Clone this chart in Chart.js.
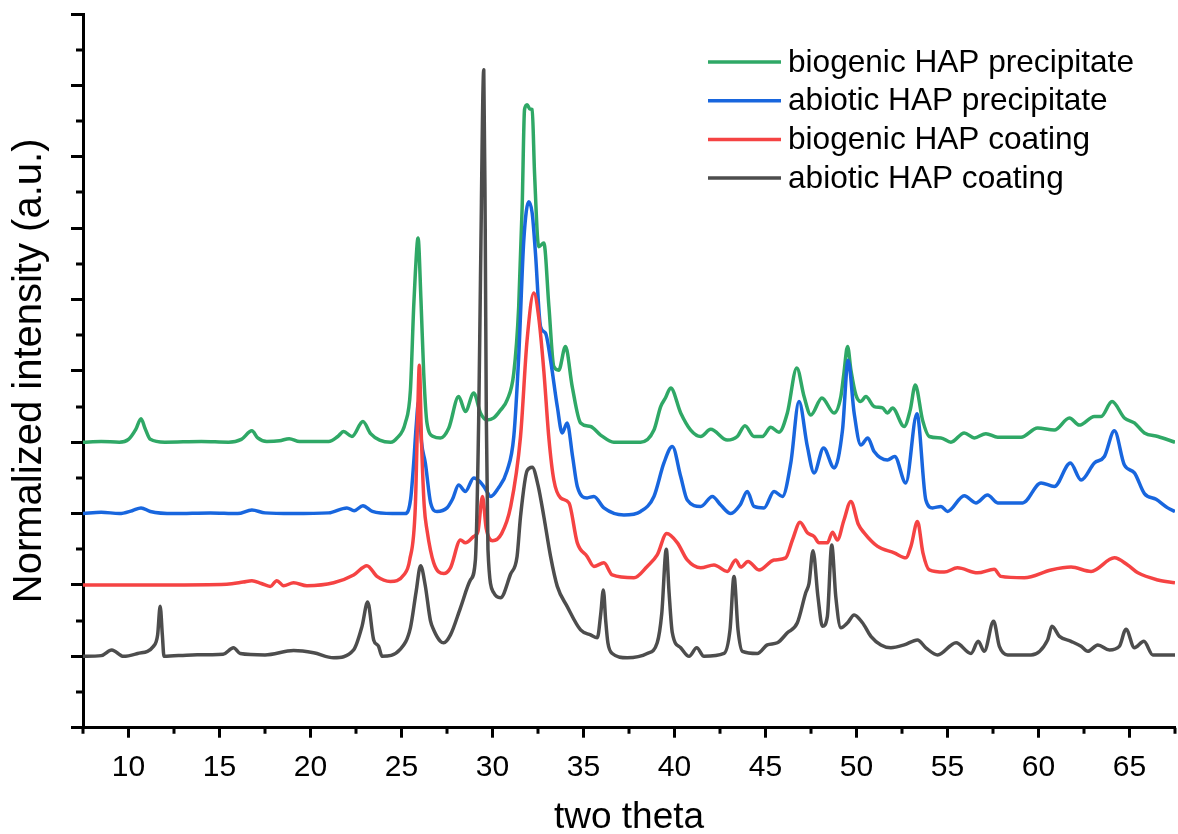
<!DOCTYPE html>
<html>
<head>
<meta charset="utf-8">
<title>XRD patterns</title>
<script src="https://cdn.jsdelivr.net/npm/chart.js@4.4.1/dist/chart.umd.min.js"></script>
<style>
    html, body { margin: 0; padding: 0; background: #fff; }
    #wrap { width: 1178px; height: 834px; }
</style>
</head>
<body>
<div id="wrap"><canvas id="xrdChart"></canvas></div>
<script>
// Series names (legend order) and colours
const seriesNames = ['biogenic HAP precipitate', 'abiotic HAP precipitate', 'biogenic HAP coating', 'abiotic HAP coating'];
const seriesColors = ['#2fa866', '#1866de', '#f54343', '#4d4d4d'];
// vertical offset of each pattern (stacked display)
const offsets = [4, 3, 2, 1];

// Axis ticks
const xMajorTicks = [10, 15, 20, 25, 30, 35, 40, 45, 50, 55, 60, 65];
const xMinorTicks = [7.5, 12.5, 17.5, 22.5, 27.5, 32.5, 37.5, 42.5, 47.5, 52.5, 57.5, 62.5, 67.5];
const yMajorTicks = [0, 1, 2, 3, 4, 5, 6, 7, 8, 9, 10];
const yMinorTicks = [0.5, 1.5, 2.5, 3.5, 4.5, 5.5, 6.5, 7.5, 8.5, 9.5];

// [two theta, normalized intensity] (before offset)
const biogenicPrecipitate = [
    [7.5, 0.0], [8.5, 0.01], [9.5, 0.0], [10.0, 0.04], [10.4, 0.18], [10.69, 0.33], [10.9, 0.2], [11.2, 0.04],
    [12.0, 0.0], [14.0, 0.01], [15.5, 0.0], [16.2, 0.04], [16.78, 0.16], [17.1, 0.06], [17.6, 0.01], [18.3, 0.02],
    [18.83, 0.05], [19.4, 0.01], [21.0, 0.01], [21.5, 0.08], [21.82, 0.15], [22.28, 0.08], [22.88, 0.29], [23.3, 0.12],
    [23.8, 0.03], [24.4, 0.0], [24.76, 0.06], [25.21, 0.27], [25.49, 0.73], [25.67, 1.9], [25.76, 2.37], [25.91, 2.86],
    [26.07, 1.99], [26.22, 0.97], [26.4, 0.27], [26.75, 0.08], [27.14, 0.06], [27.6, 0.2], [28.14, 0.64], [28.51, 0.43],
    [28.97, 0.69], [29.34, 0.41], [29.7, 0.31], [30.07, 0.34], [30.44, 0.45], [30.8, 0.59], [31.17, 0.97], [31.44, 1.9],
    [31.63, 3.3], [31.76, 4.66], [31.9, 4.73], [32.05, 4.67], [32.18, 4.66], [32.31, 3.77], [32.54, 2.74], [32.82, 2.79],
    [33.1, 1.9], [33.37, 1.06], [33.64, 1.01], [34.01, 1.34], [34.38, 0.78], [34.84, 0.27], [35.39, 0.22], [35.94, 0.1],
    [36.67, 0.0], [38.14, 0.0], [38.87, 0.17], [39.24, 0.5], [39.5, 0.62], [39.79, 0.76], [40.34, 0.41], [40.89, 0.17],
    [41.44, 0.08], [41.99, 0.18], [42.9, 0.03], [43.45, 0.08], [43.87, 0.23], [44.37, 0.08], [44.83, 0.08], [45.29, 0.21],
    [45.74, 0.14], [46.2, 0.41], [46.72, 1.04], [47.12, 0.64], [47.49, 0.38], [48.1, 0.62], [48.77, 0.41], [49.14, 0.64],
    [49.3, 0.95], [49.51, 1.34], [49.7, 1.0], [49.97, 0.66], [50.24, 0.57], [50.51, 0.64], [50.97, 0.5], [51.43, 0.48],
    [51.7, 0.41], [51.98, 0.48], [52.62, 0.22], [52.95, 0.45], [53.23, 0.8], [53.63, 0.31], [54.0, 0.08], [54.64, 0.06],
    [55.19, 0.0], [55.92, 0.13], [56.47, 0.06], [57.11, 0.12], [57.76, 0.07], [59.04, 0.07], [59.95, 0.2], [60.87, 0.17],
    [61.7, 0.34], [62.24, 0.24], [63.07, 0.36], [63.44, 0.36], [64.04, 0.57], [64.72, 0.34], [65.27, 0.27], [65.82, 0.13],
    [66.56, 0.08], [67.5, 0.0]
];

const abioticPrecipitate = [
    [7.5, 0.0], [8.5, 0.02], [9.5, 0.0], [10.2, 0.04], [10.69, 0.08], [11.2, 0.03], [12.5, 0.0], [14.5, 0.01],
    [16.0, 0.0], [16.78, 0.05], [17.5, 0.01], [19.0, 0.0], [21.0, 0.01], [22.0, 0.08], [22.4, 0.04], [22.88, 0.11],
    [23.4, 0.03], [24.5, 0.0], [25.21, 0.0], [25.5, 0.2], [25.67, 0.71], [25.8, 1.2], [25.94, 1.57], [26.1, 1.0],
    [26.31, 0.71], [26.6, 0.15], [26.95, 0.03], [27.5, 0.08], [27.8, 0.2], [28.14, 0.4], [28.51, 0.31], [28.97, 0.5],
    [29.3, 0.45], [29.6, 0.35], [29.9, 0.24], [30.3, 0.35], [30.8, 0.6], [31.17, 1.08], [31.44, 2.2], [31.72, 3.83],
    [31.99, 4.37], [32.18, 4.21], [32.36, 3.65], [32.64, 2.62], [32.91, 2.53], [33.19, 2.15], [33.56, 1.5], [33.83, 1.13],
    [34.1, 1.27], [34.4, 0.8], [34.66, 0.38], [35.2, 0.22], [35.57, 0.24], [36.12, 0.08], [37.22, -0.02], [38.14, 0.03],
    [38.87, 0.24], [39.42, 0.71], [39.88, 0.94], [40.34, 0.52], [40.7, 0.19], [41.44, 0.1], [42.08, 0.24], [42.54, 0.12],
    [43.09, 0.0], [43.6, 0.12], [44.0, 0.31], [44.37, 0.1], [44.92, 0.08], [45.47, 0.31], [45.93, 0.24], [46.39, 0.71],
    [46.84, 1.57], [47.3, 0.94], [47.67, 0.57], [48.19, 0.92], [48.77, 0.64], [49.23, 1.17], [49.54, 2.15], [49.87, 1.41],
    [50.24, 0.96], [50.62, 1.06], [50.97, 0.87], [51.7, 0.75], [52.1, 0.8], [52.71, 0.43], [53.32, 1.4], [53.81, 0.19],
    [54.18, 0.08], [54.64, 0.1], [55.0, 0.03], [55.92, 0.25], [56.56, 0.15], [57.2, 0.26], [57.76, 0.15], [59.13, 0.15],
    [60.14, 0.43], [60.87, 0.38], [61.75, 0.71], [62.34, 0.47], [63.07, 0.71], [63.62, 0.8], [64.17, 1.16], [64.72, 0.68],
    [65.27, 0.57], [65.82, 0.28], [66.46, 0.2], [67.1, 0.08], [67.5, 0.03]
];

const biogenicCoating = [
    [7.5, 0.0], [12.0, 0.0], [15.4, 0.01], [16.3, 0.04], [16.78, 0.06], [17.3, 0.02], [17.79, -0.02], [18.15, 0.06],
    [18.52, -0.01], [19.07, 0.03], [19.8, -0.01], [21.27, 0.03], [22.37, 0.14], [23.1, 0.27], [23.65, 0.12], [24.39, 0.05],
    [25.12, 0.14], [25.45, 0.35], [25.76, 1.1], [25.9, 2.5], [25.98, 3.08], [26.1, 2.0], [26.25, 1.1], [26.4, 0.77],
    [26.77, 0.31], [27.32, 0.16], [27.69, 0.24], [28.24, 0.63], [28.51, 0.59], [28.97, 0.68], [29.2, 0.75], [29.45, 1.24],
    [29.65, 0.8], [30.0, 0.62], [30.5, 0.72], [31.0, 1.1], [31.54, 2.08], [31.9, 3.43], [32.27, 4.09], [32.54, 3.75],
    [32.82, 3.0], [33.1, 2.05], [33.37, 1.47], [33.74, 1.22], [34.2, 1.15], [34.66, 0.59], [35.2, 0.4], [35.57, 0.26],
    [36.12, 0.31], [36.58, 0.14], [37.77, 0.1], [38.5, 0.26], [39.05, 0.42], [39.57, 0.72], [40.16, 0.59], [40.7, 0.35],
    [41.44, 0.24], [42.17, 0.28], [42.9, 0.19], [43.36, 0.35], [43.64, 0.25], [44.04, 0.33], [44.64, 0.21], [45.47, 0.35],
    [46.11, 0.38], [46.48, 0.63], [46.9, 0.88], [47.3, 0.73], [47.67, 0.68], [47.94, 0.59], [48.4, 0.59], [48.68, 0.74],
    [48.95, 0.63], [49.3, 0.9], [49.69, 1.17], [50.1, 0.85], [50.42, 0.73], [51.16, 0.54], [52.07, 0.45], [52.71, 0.38],
    [53.0, 0.55], [53.35, 0.89], [53.65, 0.45], [54.0, 0.21], [54.82, 0.18], [55.55, 0.24], [56.65, 0.17], [57.57, 0.22],
    [57.93, 0.12], [59.22, 0.1], [60.69, 0.21], [61.79, 0.25], [62.89, 0.19], [64.17, 0.38], [64.9, 0.28], [65.46, 0.17],
    [66.56, 0.07], [67.5, 0.03]
];

const abioticCoating = [
    [7.5, 0.0], [8.5, 0.01], [9.08, 0.09], [9.72, 0.0], [10.5, 0.04], [11.37, 0.14], [11.6, 0.3], [11.74, 0.7],
    [11.86, 0.3], [11.95, 0.0], [13.5, 0.02], [15.2, 0.03], [15.77, 0.12], [16.14, 0.04], [17.5, 0.02], [19.07, 0.08],
    [20.17, 0.05], [21.27, -0.02], [22.37, 0.09], [22.83, 0.42], [23.14, 0.76], [23.47, 0.23], [23.74, 0.14], [23.93, 0.0],
    [24.94, 0.1], [25.49, 0.4], [25.8, 0.9], [26.05, 1.27], [26.3, 1.0], [26.59, 0.5], [26.77, 0.37], [27.14, 0.21],
    [27.32, 0.19], [27.69, 0.3], [28.24, 0.68], [28.79, 1.07], [29.06, 1.35], [29.24, 3.3], [29.34, 5.3], [29.52, 8.22],
    [29.6, 6.0], [29.66, 3.36], [29.75, 1.5], [30.07, 0.89], [30.44, 0.82], [30.99, 1.15], [31.35, 1.4], [31.54, 1.96],
    [31.9, 2.6], [32.18, 2.65], [32.5, 2.4], [32.82, 1.96], [33.19, 1.4], [33.56, 0.98], [34.1, 0.7], [34.84, 0.37],
    [35.39, 0.3], [35.76, 0.26], [35.95, 0.6], [36.09, 0.93], [36.22, 0.5], [36.34, 0.19], [36.58, 0.04], [37.4, -0.02],
    [38.5, 0.04], [39.05, 0.19], [39.3, 0.6], [39.55, 1.5], [39.7, 0.9], [39.88, 0.33], [40.34, 0.12], [40.8, 0.0],
    [41.22, 0.12], [41.62, 0.0], [42.72, 0.04], [43.05, 0.37], [43.27, 1.12], [43.49, 0.37], [43.73, 0.07], [44.55, 0.04],
    [45.1, 0.16], [45.65, 0.19], [46.2, 0.33], [46.75, 0.47], [47.21, 0.89], [47.39, 1.02], [47.61, 1.48], [47.88, 0.84],
    [48.13, 0.42], [48.4, 0.56], [48.64, 1.56], [48.86, 0.84], [49.14, 0.4], [49.51, 0.47], [49.87, 0.58], [50.33, 0.47],
    [50.79, 0.28], [51.34, 0.16], [51.89, 0.12], [52.62, 0.16], [53.35, 0.23], [53.81, 0.12], [54.46, 0.02], [55.47, 0.19],
    [56.29, 0.04], [56.69, 0.21], [57.02, 0.07], [57.53, 0.49], [57.85, 0.14], [58.31, 0.02], [59.59, 0.02], [60.5, 0.23],
    [60.74, 0.42], [61.15, 0.28], [61.79, 0.21], [62.34, 0.14], [62.71, 0.07], [63.26, 0.16], [63.9, 0.09], [64.44, 0.14],
    [64.81, 0.38], [65.27, 0.12], [65.79, 0.21], [66.28, 0.02], [67.5, 0.02]
];

const allSeries = [biogenicPrecipitate, abioticPrecipitate, biogenicCoating, abioticCoating];

const FONT = "'Liberation Sans', Arial, sans-serif";
Chart.defaults.font.family = FONT;
Chart.defaults.color = '#000';

// minor ticks (Chart.js has no minor ticks) drawn from the scales
const minorTicks = {
    id: 'minorTicks',
    afterDraw(chart) {
        const ctx = chart.ctx;
        const xs = chart.scales.x, ys = chart.scales.y;
        ctx.save();
        ctx.strokeStyle = '#000';
        ctx.lineWidth = 3;
        ctx.beginPath();
        xMinorTicks.forEach(v => {
            const px = Math.round(xs.getPixelForValue(v));
            ctx.moveTo(px, xs.top);
            ctx.lineTo(px, xs.top + 6);
        });
        yMinorTicks.forEach(v => {
            const py = Math.round(ys.getPixelForValue(v));
            ctx.moveTo(ys.right, py);
            ctx.lineTo(ys.right - 7, py);
        });
        ctx.stroke();
        ctx.restore();
    }
};

// legend drawn inside the plot, top right
const insideLegend = {
    id: 'insideLegend',
    afterDraw(chart) {
        const ctx = chart.ctx;
        const area = chart.chartArea;
        const x0 = area.left + 625;
        const y0 = area.top + 48;
        const rowH = 38.7;
        ctx.save();
        ctx.font = '31.6px ' + FONT;
        ctx.textBaseline = 'middle';
        ctx.fillStyle = '#000';
        chart.data.datasets.forEach((ds, i) => {
            const y = y0 + i * rowH;
            ctx.strokeStyle = ds.borderColor;
            ctx.lineWidth = 3.5;
            ctx.beginPath();
            ctx.moveTo(x0, y);
            ctx.lineTo(x0 + 73, y);
            ctx.stroke();
            ctx.fillText(ds.label, x0 + 80, y + 1);
        });
        ctx.restore();
    }
};

const datasets = allSeries.map((series, i) => ({
    label: seriesNames[i],
    data: series.map(p => ({ x: p[0], y: p[1] + offsets[i] })),
    borderColor: seriesColors[i],
    borderWidth: 3.5,
    pointRadius: 0,
    cubicInterpolationMode: 'monotone',
    fill: false,
    borderJoinStyle: 'round',
    order: 4 - i
}));

new Chart(document.getElementById('xrdChart'), {
    type: 'line',
    data: { datasets: datasets },
    options: {
        responsive: true,
        maintainAspectRatio: false,
        animation: false,
        devicePixelRatio: 1,
        layout: { padding: { left: 4, top: 14, right: 3, bottom: 0 } },
        plugins: {
            legend: { display: false },
            tooltip: { enabled: false }
        },
        scales: {
            x: {
                type: 'linear',
                min: 7.5,
                max: 67.5,
                afterBuildTicks: s => { s.ticks = xMajorTicks.map(v => ({ value: v })); },
                ticks: { font: { size: 30 }, color: '#000', padding: 12, maxRotation: 0, autoSkip: false },
                grid: { drawOnChartArea: false, drawTicks: true, tickLength: 10, tickWidth: 3, tickColor: '#000' },
                border: { display: true, color: '#000', width: 3 },
                title: { display: true, text: 'two theta', font: { size: 37, lineHeight: 0.9 }, color: '#000', padding: { top: 3, bottom: 0 } }
            },
            y: {
                type: 'linear',
                min: 0,
                max: 10,
                afterBuildTicks: s => { s.ticks = yMajorTicks.map(v => ({ value: v })); },
                ticks: { display: false },
                grid: { drawOnChartArea: false, drawTicks: true, tickLength: 12, tickWidth: 3, tickColor: '#000' },
                border: { display: true, color: '#000', width: 3 },
                title: { display: true, text: 'Normalized intensity (a.u.)', font: { size: 40, lineHeight: 1.2 }, color: '#000', padding: { top: 2, bottom: 17 } }
            }
        }
    },
    plugins: [minorTicks, insideLegend]
});
</script>
</body>
</html>
